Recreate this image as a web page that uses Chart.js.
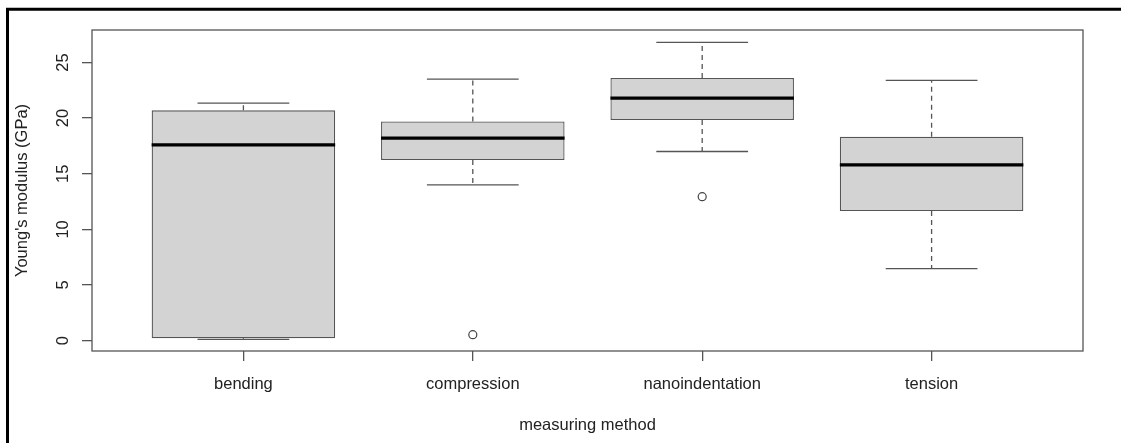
<!DOCTYPE html>
<html><head><meta charset="utf-8">
<script src="https://cdn.jsdelivr.net/npm/chart.js@4.4.0/dist/chart.umd.min.js"></script>
<style>html,body{margin:0;padding:0;background:#fff;} #wrap{width:1121px;height:443px;}</style>
</head><body><div id="wrap"><canvas id="c" width="1121" height="443"></canvas></div>
<script>
const categories = ['bending', 'compression', 'nanoindentation', 'tension'];
const whiskerLow = [0.12, 14.0, 17.0, 6.47];
const q1 = [0.21, 16.24, 19.83, 11.65];
const median = [17.6, 18.2, 21.8, 15.8];
const q3 = [20.7, 19.7, 23.6, 18.33];
const whiskerHigh = [21.35, 23.5, 26.8, 23.4];
const outliers = [[], [0.54], [12.94], []];
const yTicks = [0, 5, 10, 15, 20, 25];
const yRange = [-0.93, 27.92];
const xRange = [0.34, 4.66];

const FONT = { family: "'Liberation Sans', Arial, sans-serif", size: 16.5 };
const TEXT = '#222';
const LINE = '#555';

const boxData = categories.map((c, i) => ({ x: i + 1, y: [q1[i], q3[i]] }));
const outlierData = [];
outliers.forEach((arr, i) => arr.forEach(v => outlierData.push({ x: i + 1, y: v })));

const boxPlugin = {
  id: 'boxParts',
  beforeDatasetsDraw(chart) {
    const { ctx, scales: { x, y } } = chart;
    ctx.save();
    ctx.strokeStyle = LINE;
    ctx.lineWidth = 1.3;
    categories.forEach((c, i) => {
      const cx = x.getPixelForValue(i + 1);
      const capL = x.getPixelForValue(i + 1 - 0.2);
      const capR = x.getPixelForValue(i + 1 + 0.2);
      ctx.setLineDash([5, 4]);
      ctx.beginPath();
      ctx.moveTo(cx, y.getPixelForValue(q3[i]));
      ctx.lineTo(cx, y.getPixelForValue(whiskerHigh[i]));
      ctx.moveTo(cx, y.getPixelForValue(q1[i]));
      ctx.lineTo(cx, y.getPixelForValue(whiskerLow[i]));
      ctx.stroke();
      ctx.setLineDash([]);
      ctx.beginPath();
      ctx.moveTo(capL, y.getPixelForValue(whiskerHigh[i]));
      ctx.lineTo(capR, y.getPixelForValue(whiskerHigh[i]));
      ctx.moveTo(capL, y.getPixelForValue(whiskerLow[i]));
      ctx.lineTo(capR, y.getPixelForValue(whiskerLow[i]));
      ctx.stroke();
    });
    ctx.restore();
  },
  afterDatasetsDraw(chart) {
    const { ctx, scales: { x, y } } = chart;
    ctx.save();
    ctx.strokeStyle = '#000';
    ctx.lineWidth = 3.2;
    categories.forEach((c, i) => {
      const l = x.getPixelForValue(i + 1 - 0.4);
      const r = x.getPixelForValue(i + 1 + 0.4);
      const py = y.getPixelForValue(median[i]);
      ctx.beginPath();
      ctx.moveTo(l, py);
      ctx.lineTo(r, py);
      ctx.stroke();
    });
    ctx.restore();
  },
  afterDraw(chart) {
    const { ctx, chartArea: a } = chart;
    ctx.save();
    ctx.strokeStyle = LINE;
    ctx.lineWidth = 1.3;
    ctx.strokeRect(a.left, a.top, a.right - a.left, a.bottom - a.top);
    ctx.strokeStyle = '#000';
    ctx.lineWidth = 3;
    ctx.beginPath();
    ctx.moveTo(7.5, 443);
    ctx.lineTo(7.5, 9.2);
    ctx.lineTo(1121, 9.2);
    ctx.stroke();
    ctx.restore();
  }
};

new Chart(document.getElementById('c'), {
  type: 'bar',
  data: {
    datasets: [
      {
        type: 'bar',
        data: boxData,
        backgroundColor: '#d3d3d3',
        borderColor: LINE,
        borderWidth: 1.3,
        borderSkipped: false,
        barPercentage: 0.8,
        categoryPercentage: 1.0,
        order: 2
      },
      {
        type: 'scatter',
        data: outlierData,
        pointRadius: 4,
        pointBorderColor: '#444',
        pointBackgroundColor: 'rgba(255,255,255,0)',
        pointBorderWidth: 1.2,
        showLine: false,
        order: 1
      }
    ]
  },
  options: {
    responsive: false,
    devicePixelRatio: 1,
    animation: false,
    layout: { padding: { left: 10, top: 30, right: 38, bottom: 0 } },
    plugins: { legend: { display: false }, tooltip: { enabled: false } },
    scales: {
      x: {
        type: 'linear',
        min: xRange[0],
        max: xRange[1],
        offset: false,
        afterBuildTicks: s => { s.ticks = categories.map((c, i) => ({ value: i + 1 })); },
        afterFit: s => { s.height = 92; },
        ticks: {
          callback: v => categories[v - 1],
          color: TEXT, font: FONT, padding: 14, autoSkip: false, maxRotation: 0
        },
        grid: { display: true, offset: false, drawOnChartArea: false, drawTicks: true, tickLength: 10, color: LINE, lineWidth: 1.3 },
        border: { display: false },
        title: { display: true, text: 'measuring method', color: TEXT, font: FONT, padding: { top: 0, bottom: 7.4 } }
      },
      y: {
        type: 'linear',
        min: yRange[0],
        max: yRange[1],
        beginAtZero: false,
        afterBuildTicks: s => { s.ticks = yTicks.map(v => ({ value: v })); },
        afterFit: s => { s.width = 82; },
        ticks: {
          color: TEXT, font: FONT, padding: 9, minRotation: 90, maxRotation: 90, crossAlign: 'center'
        },
        grid: { display: true, drawOnChartArea: false, drawTicks: true, tickLength: 10, color: LINE, lineWidth: 1.3 },
        border: { display: false },
        title: { display: true, text: "Young's modulus (GPa)", color: TEXT, font: FONT, padding: { top: 3, bottom: 0 } }
      }
    }
  },
  plugins: [boxPlugin]
});
</script>
</body></html>
